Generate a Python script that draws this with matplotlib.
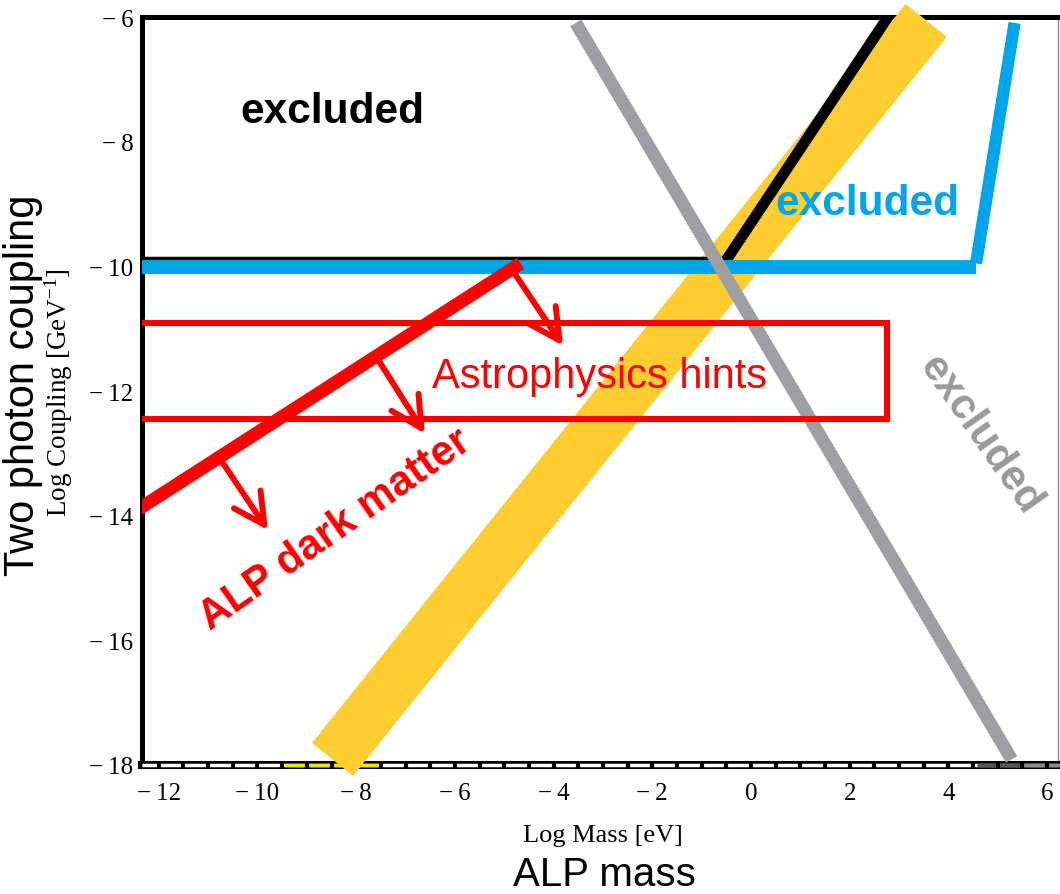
import numpy as np
import matplotlib.pyplot as plt
from matplotlib.ticker import MultipleLocator, FuncFormatter

plt.rcParams['mathtext.fontset'] = 'custom'
plt.rcParams['mathtext.rm'] = 'Liberation Serif'
plt.rcParams['mathtext.it'] = 'Liberation Serif:italic'

SANS = 'Liberation Sans'
SERIF = 'Liberation Serif'

# axis ranges (log10 mass / eV, log10 coupling / GeV^-1)
x_range = [-12.35, 6.22]
y_range = [-18, -6]
x_ticks = [-12, -10, -8, -6, -4, -2, 0, 2, 4, 6]
y_ticks = [-18, -16, -14, -12, -10, -8, -6]

# yellow band
band_x = [-8.48, 3.55]
band_y = [-17.91, -6.05]

# black limit
black_x = [-12.6, -0.53, 2.77]
black_y = [-9.93, -9.93, -6.0]

# blue limit
blue_flat_x = [-12.6, 4.55]
blue_flat_y = [-10.0, -10.0]
blue_rise_x = [4.56, 5.34]
blue_rise_y = [-9.95, -6.09]

# grey limit
grey_x = [-3.55, 5.28]
grey_y = [-6.09, -17.91]

# ALP dark matter line and arrows
dm_x = [-12.6, -4.67]
dm_y = [-13.99, -9.95]
arrow_start = [(-4.85, -10.04), (-7.60, -11.44), (-10.78, -13.06)]
arrow_tip = [(-3.81, -11.27), (-6.61, -12.68), (-9.79, -14.23)]

# astrophysics hints box
box_x = [-12.6, 2.75, 2.75, -12.6]
box_y = [-10.91, -10.91, -12.45, -12.45]

# coloured pieces of the bottom frame
strip_x0 = [-9.44, 4.58, 5.51]
strip_x1 = [-7.56, 5.51, 6.30]
strip_col = ['#f2e600', '#555555', '#8c8c8c']

RED = '#ff0000'
BLUE = '#00a6e9'
GREY = '#9d9fa2'
YELLOW = '#fecd30'


def fmt(v, pos):
    v = int(round(v))
    return '\u2212\u2009%d' % -v if v < 0 else '%d' % v


fig = plt.figure(figsize=(10.6, 8.95), dpi=100)
ax = fig.add_axes([141.5 / 1060, 1 - 766 / 895, (1058 - 141.5) / 1060, (766 - 18.3) / 895])
ax.set_xlim(x_range)
ax.set_ylim(y_range)

# frame
for side in ['top', 'left']:
    ax.spines[side].set_linewidth(3.6)
ax.spines['bottom'].set_linewidth(5.8)
ax.spines['right'].set_linewidth(1.0)
ax.spines['right'].set_color('#888888')
for s in ax.spines.values():
    s.set_zorder(2.0)

ax.plot(x_range, [y_range[0]] * 2, color='white', lw=2.5, clip_on=False,
        zorder=2.1, solid_capstyle='butt')
for a, b, c in zip(strip_x0, strip_x1, strip_col):
    ax.plot([a, b], [y_range[0]] * 2, color=c, lw=2.5, clip_on=False,
            zorder=2.2, solid_capstyle='butt')

ax.set_xticks(x_ticks)
ax.set_yticks(y_ticks)
ax.xaxis.set_minor_locator(MultipleLocator(0.5))
ax.xaxis.set_major_formatter(FuncFormatter(fmt))
ax.yaxis.set_major_formatter(FuncFormatter(fmt))
ax.tick_params(axis='x', which='both', direction='inout', length=5.8, width=3,
               color='black', pad=9, labelsize=18)
ax.tick_params(axis='y', which='both', length=0, pad=6, labelsize=18)
ax.xaxis.set_zorder(2.3)
for lab in ax.get_xticklabels() + ax.get_yticklabels():
    lab.set_fontfamily(SERIF)

# curves
ax.plot(band_x, band_y, color=YELLOW, lw=38, solid_capstyle='butt',
        clip_on=False, zorder=2.6)
ax.plot(black_x, black_y, color='black', lw=7.8, solid_capstyle='butt',
        solid_joinstyle='miter', zorder=2.65)
ax.plot(blue_flat_x, blue_flat_y, color=BLUE, lw=10, solid_capstyle='butt', zorder=2.7)
ax.plot(blue_rise_x, blue_rise_y, color=BLUE, lw=8.8, solid_capstyle='butt', zorder=2.7)
ax.plot(grey_x, grey_y, color=GREY, lw=9.4, solid_capstyle='butt', zorder=2.8)

ax.plot(box_x, box_y, color=RED, lw=4.4, solid_joinstyle='miter', zorder=2.9)
ax.plot(dm_x, dm_y, color=RED, lw=9.5, solid_capstyle='butt', zorder=2.95)
for s, t in zip(arrow_start, arrow_tip):
    ax.annotate('', xy=t, xytext=s,
                arrowprops=dict(arrowstyle='->,head_length=2.2,head_width=1.15',
                                color=RED, lw=4.3, shrinkA=0, shrinkB=0,
                                mutation_scale=10, capstyle='round',
                                joinstyle='round'),
                zorder=2.95)

# labels inside
ax.text(-10.35, -7.68, 'excluded', color='black', fontsize=30.5,
        fontweight='bold', family=SANS, ha='left', va='baseline', zorder=3)
ax.text(0.49, -9.15, 'excluded', color=BLUE, fontsize=30.5,
        fontweight='bold', family=SANS, ha='left', va='baseline', zorder=3)
ax.text(4.64, -12.69, 'excluded', color='#9a9a9a', fontsize=30.5,
        fontweight='bold', family=SANS, ha='center', va='center',
        rotation=-55, rotation_mode='anchor', zorder=3)
ax.text(-3.06, -11.93, 'Astrophysics hints', color=RED, fontsize=30,
        family=SANS, ha='center', va='baseline', zorder=3)
ax.text(-8.3, -14.36, 'ALP dark matter', color=RED, fontsize=30,
        fontweight='bold', family=SANS, ha='center', va='baseline',
        rotation=35, rotation_mode='anchor', zorder=3)

# axis titles
fig.text(602.5 / 1060, 1 - 842 / 895, 'Log Mass [eV]', family=SERIF,
         fontsize=19, ha='center', va='baseline')
fig.text(604 / 1060, 1 - 886 / 895, 'ALP mass', family=SANS,
         fontsize=29, ha='center', va='baseline')
fig.text(75 / 1060, 1 - 393 / 895, 'Log Coupling [GeV$^{-1}$]', family=SERIF,
         fontsize=19.5, rotation=90, ha='right', va='center')
fig.text(43 / 1060, 1 - 385 / 895, 'Two photon coupling', family=SANS,
         fontsize=30, rotation=90, ha='right', va='center')

fig.savefig('out.png', dpi=100)
